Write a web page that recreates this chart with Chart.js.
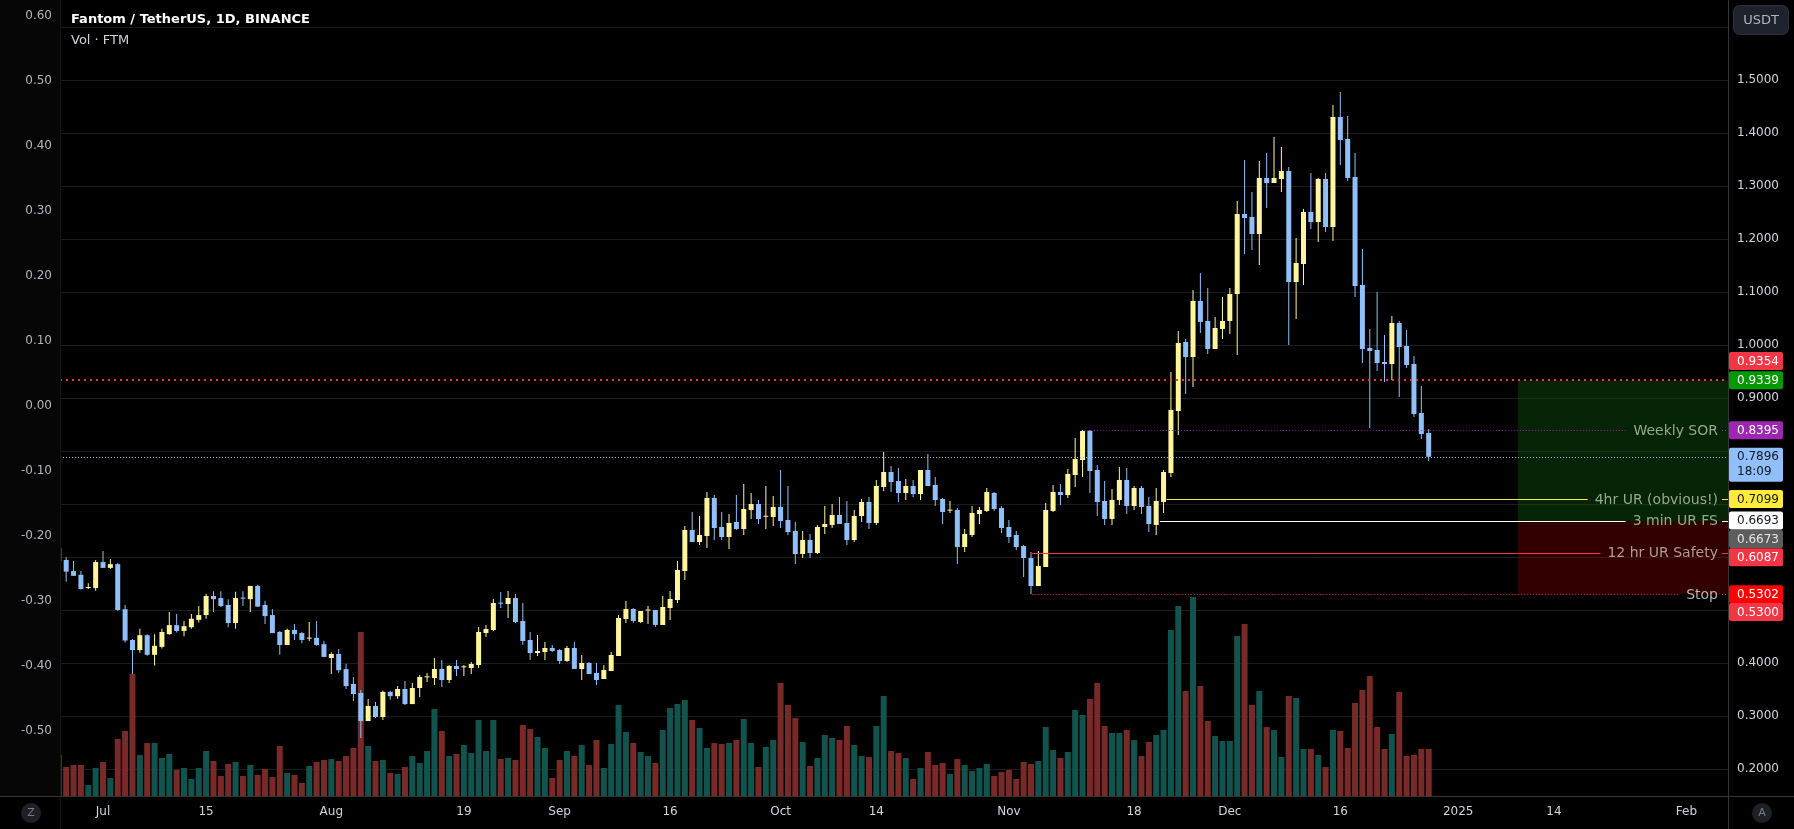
<!DOCTYPE html>
<html>
<head>
<meta charset="utf-8">
<script src="https://cdn.jsdelivr.net/npm/chart.js@4.4.1/dist/chart.umd.min.js"></script>
<style>
  html, body { margin: 0; padding: 0; background: #000; overflow: hidden; }
  canvas { display: block; }
</style>
</head>
<body>
<canvas id="ftmChart" width="1794" height="829"></canvas>
<script>
// daily candles, first one is 25 Jun 2024 (day -6, days counted from 1 Jul 2024)
const firstDay = -6;

const opens = [
  0.618, 0.595, 0.574, 0.567, 0.542, 0.542, 0.591, 0.580, 0.587, 0.502,
  0.444, 0.425, 0.453, 0.416, 0.431, 0.455, 0.472, 0.461, 0.468, 0.482,
  0.491, 0.527, 0.523, 0.510, 0.476, 0.523, 0.521, 0.546, 0.510, 0.491,
  0.459, 0.4345, 0.463, 0.457, 0.4465, 0.448, 0.436, 0.410, 0.4175, 0.389,
  0.361, 0.344, 0.291, 0.3195, 0.2987, 0.346, 0.338, 0.3515, 0.323, 0.3534,
  0.3735, 0.3722, 0.3892, 0.3685, 0.3949, 0.3925, 0.3911, 0.3968, 0.4572, 0.4628,
  0.5138, 0.5119, 0.5232, 0.4798, 0.4440, 0.4194, 0.4213, 0.4289, 0.4251, 0.4044,
  0.4289, 0.3892, 0.4006, 0.3817, 0.3704, 0.3855, 0.4138, 0.4836, 0.5024, 0.4779,
  0.4995, 0.5006, 0.4723, 0.5043, 0.5194, 0.5741, 0.6515, 0.6288, 0.6402, 0.7119,
  0.6572, 0.6383, 0.6666, 0.6534, 0.6893, 0.7006, 0.6765, 0.6760, 0.6949, 0.6704,
  0.6496, 0.6062, 0.6326, 0.6081, 0.6572, 0.6610, 0.6798, 0.6647, 0.6326, 0.6779,
  0.7043, 0.6647, 0.7326, 0.7609, 0.7440, 0.7213, 0.7345, 0.7194, 0.7647, 0.7364,
  0.7100, 0.6880, 0.6893, 0.6194, 0.6421, 0.6817, 0.6874, 0.7213, 0.6930, 0.6572,
  0.6421, 0.6213, 0.5987, 0.5458, 0.5817, 0.6874, 0.7232, 0.7175, 0.7553, 0.7836,
  0.8383, 0.7647, 0.7062, 0.6723, 0.7081, 0.7459, 0.6968, 0.7308, 0.6968, 0.6610,
  0.7044, 0.7591, 0.8760, 1.0062, 0.9779, 1.0836, 1.0459, 0.9930, 1.0308, 1.0459,
  1.0968, 1.2477, 1.2421, 1.2100, 1.3157, 1.3062, 1.3138, 1.3289, 1.1194, 1.1534,
  1.2515, 1.2326, 1.3138, 1.2232, 1.4308, 1.3892, 1.3175, 1.1138, 0.9949, 0.9911,
  0.9685, 0.9647, 1.0421, 0.9987, 0.9647, 0.8723, 0.8345
];
const highs = [
  0.620, 0.600, 0.593, 0.574, 0.551, 0.595, 0.612, 0.597, 0.589, 0.510,
  0.446, 0.465, 0.455, 0.455, 0.465, 0.497, 0.493, 0.480, 0.493, 0.508,
  0.531, 0.536, 0.536, 0.521, 0.535, 0.536, 0.546, 0.548, 0.518, 0.502,
  0.461, 0.465, 0.474, 0.459, 0.478, 0.480, 0.442, 0.421, 0.427, 0.399,
  0.374, 0.3496, 0.3327, 0.327, 0.348, 0.348, 0.357, 0.3666, 0.3628, 0.3779,
  0.3817, 0.4100, 0.4062, 0.3968, 0.4062, 0.3968, 0.4025, 0.4685, 0.4723, 0.5213,
  0.5345, 0.5364, 0.5307, 0.5138, 0.4591, 0.4534, 0.4402, 0.4345, 0.4270, 0.4326,
  0.4402, 0.4157, 0.4025, 0.4006, 0.3968, 0.4213, 0.4911, 0.5175, 0.5043, 0.4987,
  0.5081, 0.5006, 0.5270, 0.5364, 0.5930, 0.6590, 0.6855, 0.6779, 0.7232, 0.7175,
  0.6855, 0.6817, 0.7175, 0.7383, 0.7213, 0.7081, 0.7345, 0.7157, 0.7647, 0.7345,
  0.6666, 0.6496, 0.6440, 0.6610, 0.6968, 0.7006, 0.7138, 0.7062, 0.6893, 0.7100,
  0.7138, 0.7458, 0.7987, 0.7723, 0.7685, 0.7477, 0.7458, 0.7647, 0.7949, 0.7515,
  0.7119, 0.7062, 0.6930, 0.6534, 0.6968, 0.6949, 0.7308, 0.7232, 0.6968, 0.6704,
  0.6496, 0.6232, 0.6100, 0.6119, 0.7025, 0.7364, 0.7383, 0.7666, 0.8251, 0.8402,
  0.8402, 0.7742, 0.7440, 0.7289, 0.7704, 0.7685, 0.7345, 0.7345, 0.7138, 0.7308,
  0.7647, 0.9496, 1.0270, 1.0119, 1.1043, 1.1364, 1.1081, 1.0534, 1.0911, 1.1081,
  1.2723, 1.3496, 1.2892, 1.3477, 1.3628, 1.3930, 1.3742, 1.3364, 1.2025, 1.2572,
  1.3251, 1.3157, 1.3251, 1.4534, 1.4779, 1.4326, 1.3628, 1.1817, 1.0308, 1.1006,
  1.0194, 1.0553, 1.0459, 1.0289, 0.9798, 0.9232, 0.8421
];
const lows = [
  0.590, 0.554, 0.565, 0.539, 0.540, 0.537, 0.580, 0.578, 0.499, 0.439,
  0.380, 0.420, 0.414, 0.396, 0.428, 0.454, 0.458, 0.451, 0.465, 0.477,
  0.484, 0.497, 0.506, 0.468, 0.465, 0.508, 0.497, 0.506, 0.474, 0.457,
  0.416, 0.4345, 0.444, 0.438, 0.442, 0.433, 0.412, 0.380, 0.382, 0.3515,
  0.329, 0.259, 0.291, 0.297, 0.293, 0.331, 0.333, 0.3213, 0.323, 0.3364,
  0.3647, 0.3590, 0.3553, 0.3628, 0.3760, 0.3760, 0.3798, 0.3911, 0.4496, 0.4609,
  0.5043, 0.4855, 0.4760, 0.4345, 0.4062, 0.4138, 0.4062, 0.4213, 0.3987, 0.4025,
  0.3892, 0.3685, 0.3798, 0.3590, 0.3704, 0.3855, 0.4138, 0.4760, 0.4760, 0.4760,
  0.4741, 0.4685, 0.4723, 0.4817, 0.5138, 0.5572, 0.6288, 0.6232, 0.6175, 0.6326,
  0.6326, 0.6157, 0.6515, 0.6421, 0.6722, 0.6628, 0.6534, 0.6591, 0.6553, 0.6421,
  0.5874, 0.5987, 0.5987, 0.6062, 0.6440, 0.6553, 0.6628, 0.6232, 0.6289, 0.6666,
  0.6534, 0.6610, 0.7251, 0.7232, 0.7043, 0.7081, 0.7138, 0.7081, 0.7345, 0.6968,
  0.6628, 0.6836, 0.5874, 0.6100, 0.6383, 0.6628, 0.6855, 0.6874, 0.6459, 0.6270,
  0.6138, 0.5628, 0.5307, 0.5458, 0.5817, 0.6855, 0.6987, 0.7119, 0.7326, 0.7515,
  0.7213, 0.6779, 0.6610, 0.6610, 0.6987, 0.6817, 0.6893, 0.6817, 0.6478, 0.6421,
  0.6836, 0.7515, 0.8308, 0.9081, 0.9213, 1.0232, 0.9836, 0.9930, 1.0119, 1.0213,
  0.9817, 1.1723, 1.1798, 1.1515, 1.2591, 1.3062, 1.2892, 1.0006, 1.0496, 1.1138,
  1.2194, 1.1949, 1.2138, 1.1968, 1.3402, 1.3100, 1.0911, 0.9666, 0.8440, 0.9515,
  0.9308, 0.9345, 0.9025, 0.9572, 0.8647, 0.8232, 0.7817
];
const closes = [
  0.593, 0.573, 0.565, 0.540, 0.544, 0.591, 0.580, 0.587, 0.5006, 0.443,
  0.425, 0.453, 0.416, 0.433, 0.459, 0.472, 0.461, 0.470, 0.484, 0.491,
  0.527, 0.521, 0.508, 0.476, 0.523, 0.522, 0.546, 0.507, 0.489, 0.457,
  0.4345, 0.463, 0.455, 0.444, 0.448, 0.4345, 0.412, 0.4175, 0.387, 0.357,
  0.342, 0.291, 0.3195, 0.2987, 0.346, 0.338, 0.3515, 0.323, 0.3534, 0.3741,
  0.3745, 0.3892, 0.3685, 0.3949, 0.3892, 0.3935, 0.3987, 0.4591, 0.4647, 0.5138,
  0.5125, 0.5232, 0.4779, 0.4421, 0.4194, 0.4232, 0.4289, 0.4232, 0.4044, 0.4289,
  0.3892, 0.4006, 0.3798, 0.3685, 0.3873, 0.4157, 0.4855, 0.5024, 0.4798, 0.4987,
  0.5003, 0.4723, 0.5062, 0.5213, 0.5760, 0.6515, 0.6288, 0.6421, 0.7119, 0.6553,
  0.6383, 0.6647, 0.6534, 0.6911, 0.7006, 0.6722, 0.6780, 0.6949, 0.6685, 0.6477,
  0.6062, 0.6326, 0.6081, 0.6572, 0.6628, 0.6798, 0.6628, 0.6326, 0.6779, 0.7043,
  0.6647, 0.7345, 0.7609, 0.7421, 0.7213, 0.7345, 0.7194, 0.7647, 0.7345, 0.7081,
  0.6855, 0.6893, 0.6194, 0.6440, 0.6836, 0.6893, 0.7232, 0.6911, 0.6553, 0.6383,
  0.6194, 0.5987, 0.5458, 0.5836, 0.6893, 0.7232, 0.7175, 0.7572, 0.7855, 0.8383,
  0.7628, 0.7043, 0.6723, 0.7081, 0.7459, 0.6968, 0.7308, 0.6949, 0.6628, 0.7062,
  0.7609, 0.8779, 1.0043, 0.9779, 1.0836, 1.0440, 0.9930, 1.0326, 1.0459, 1.0968,
  1.2477, 1.2402, 1.2100, 1.3157, 1.3062, 1.3157, 1.3289, 1.1194, 1.1553, 1.2515,
  1.2326, 1.3138, 1.2232, 1.4308, 1.3874, 1.3157, 1.1119, 0.9930, 0.9892, 0.9666,
  0.9647, 1.0421, 0.9968, 0.9628, 0.8704, 0.8326, 0.7896
];
// volume in millions of FTM
const volumes = [
  41, 29, 31, 31, 11, 28, 34, 18, 57, 65,
  122, 41, 53, 53, 38, 42, 26, 28, 17, 28,
  45, 35, 20, 32, 34, 20, 31, 21, 27, 19,
  50, 23, 21, 13, 30, 34, 36, 37, 35, 40,
  48, 164, 50, 35, 36, 23, 22, 29, 40, 33,
  45, 87, 65, 40, 42, 51, 43, 76, 45, 76,
  37, 38, 36, 71, 67, 59, 48, 18, 36, 45,
  40, 51, 31, 56, 28, 52, 91, 64, 53, 44,
  40, 33, 66, 88, 92, 96, 76, 68, 48, 53,
  52, 53, 56, 77, 53, 29, 49, 56, 113, 91,
  78, 54, 30, 38, 61, 58, 56, 70, 51, 40,
  39, 70, 100, 45, 43, 38, 17, 28, 44, 31,
  33, 22, 37, 31, 25, 28, 32, 20, 24, 26,
  17, 34, 32, 35, 69, 46, 38, 44, 86, 81,
  97, 113, 70, 63, 63, 66, 56, 40, 54, 61,
  66, 166, 190, 105, 199, 110, 75, 60, 55, 55,
  160, 172, 91, 105, 69, 66, 39, 100, 98, 47,
  47, 41, 29, 66, 65, 48, 93, 106, 120, 69,
  47, 62, 104, 40, 41, 47, 47
];

const xTickDays = [0, 14, 31, 49, 62, 77, 92, 105, 123, 140, 153, 168, 184, 197, 215];
const xTickLabels = ['Jul', '15', 'Aug', '19', 'Sep', '16', 'Oct', '14', 'Nov', '18', 'Dec', '16', '2025', '14', 'Feb'];
const priceTicks = [0.2, 0.3, 0.4, 0.5, 0.6, 0.7, 0.8, 0.9, 1.0, 1.1, 1.2, 1.3, 1.4, 1.5, 1.6];
const priceTickLabels = ['0.2000', '0.3000', '0.4000', '', '', '', '', '0.9000', '1.0000', '1.1000', '1.2000', '1.3000', '1.4000', '1.5000', ''];
const leftTicks = [-0.5, -0.4, -0.3, -0.2, -0.1, 0, 0.1, 0.2, 0.3, 0.4, 0.5, 0.6];
const leftTickLabels = ['-0.50', '-0.40', '-0.30', '-0.20', '-0.10', '0.00', '0.10', '0.20', '0.30', '0.40', '0.50', '0.60'];

// drawings on the chart
const position = { fromDay: 192.1, target: 0.9339, entry: 0.6673, stop: 0.5302 };
const fullLines = [
  { price: 0.9354, color: '#f23645', width: 2, dash: [2, 4] },
  { price: 0.7896, color: '#90bff9', width: 1, dash: [1, 2] }
];
const levels = [
  { price: 0.8395, fromDay: 133.3, text: 'Weekly SOR', color: '#9c27b0', dash: [1, 2], textColor: '#93a893' },
  { price: 0.7099, fromDay: 144.4, text: '4hr UR (obvious!)', color: '#ffeb3b', dash: [], textColor: '#93a893' },
  { price: 0.6693, fromDay: 143.5, text: '3 min UR FS', color: '#ffffff', dash: [], textColor: '#93a893' },
  { price: 0.6087, fromDay: 126.1, text: '12 hr UR Safety', color: '#f23645', dash: [], textColor: '#b39a9a' },
  { price: 0.5302, fromDay: 126.1, text: 'Stop', color: '#f23645', dash: [1, 2], textColor: '#b8b2b2' }
];
const tags = [
  { price: 0.9354, text: '0.9354', bg: '#f23645', fg: '#ffffff', nudge: -18.5 },
  { price: 0.9339, text: '0.9339', bg: '#009900', fg: '#ffffff', nudge: 0 },
  { price: 0.8395, text: '0.8395', bg: '#9c27b0', fg: '#ffffff', nudge: 0 },
  { price: 0.7896, text: '0.7896', sub: '18:09', bg: '#90bff9', fg: '#131722', nudge: 0 },
  { price: 0.7099, text: '0.7099', bg: '#ffeb3b', fg: '#131722', nudge: 0 },
  { price: 0.6693, text: '0.6693', bg: '#ffffff', fg: '#131722', nudge: 0 },
  { price: 0.6673, text: '0.6673', bg: '#5d5d5d', fg: '#e6e6e6', nudge: 17.5 },
  { price: 0.6087, text: '0.6087', bg: '#f23645', fg: '#ffffff', nudge: 4.6 },
  { price: 0.5302, text: '0.5302', bg: '#ff0000', fg: '#ffffff', nudge: 0 },
  { price: 0.5300, text: '0.5300', bg: '#f23645', fg: '#ffffff', nudge: 17.6 }
];

const UP = '#fff59d', DOWN = '#90bff9';
const VOL_UP = '#13534d', VOL_DOWN = '#782a28';
const FONT = 'DejaVu Sans';

const days = opens.map((_, i) => firstDay + i);
const isUp = closes.map((c, i) => c >= opens[i]);

function hline(ctx, x0, x1, y, color, width, dash) {
  ctx.save();
  ctx.strokeStyle = color;
  ctx.lineWidth = width;
  ctx.setLineDash(dash || []);
  const yy = width % 2 ? Math.round(y) + 0.5 : Math.round(y);
  ctx.beginPath();
  ctx.moveTo(x0, yy);
  ctx.lineTo(x1, yy);
  ctx.stroke();
  ctx.restore();
}

function roundRect(ctx, x, y, w, h, r) {
  ctx.beginPath();
  ctx.moveTo(x + r, y);
  ctx.arcTo(x + w, y, x + w, y + h, r);
  ctx.arcTo(x + w, y + h, x, y + h, r);
  ctx.arcTo(x, y + h, x, y, r);
  ctx.arcTo(x, y, x + w, y, r);
  ctx.closePath();
}

const tvOverlay = {
  id: 'tvOverlay',
  beforeDraw(chart) {
    const { ctx, chartArea: a } = chart;
    ctx.save();
    ctx.fillStyle = '#000';
    ctx.fillRect(0, 0, chart.width, chart.height);
    ctx.fillStyle = '#060606';
    ctx.fillRect(0, 0, a.left, a.bottom);
    ctx.restore();
  },
  beforeDatasetsDraw(chart) {
    // long position box
    const { ctx, chartArea: a, scales } = chart;
    const x0 = scales.x.getPixelForValue(position.fromDay);
    const yT = scales.y.getPixelForValue(position.target);
    const yE = scales.y.getPixelForValue(position.entry);
    const yS = scales.y.getPixelForValue(position.stop);
    ctx.save();
    ctx.fillStyle = 'rgba(18,120,18,0.3)';
    ctx.fillRect(x0, yT, a.right - x0, yE - yT);
    ctx.fillStyle = 'rgba(150,0,0,0.34)';
    ctx.fillRect(x0, yE, a.right - x0, yS - yE);
    ctx.restore();
  },
  afterDatasetsDraw(chart) {
    const { ctx, chartArea: a, scales } = chart;
    fullLines.forEach(l => {
      hline(ctx, a.left, a.right, scales.y.getPixelForValue(l.price), l.color, l.width, l.dash);
    });
    ctx.save();
    ctx.font = '14px "' + FONT + '"';
    ctx.textBaseline = 'middle';
    ctx.textAlign = 'right';
    levels.forEach(l => {
      const y = scales.y.getPixelForValue(l.price);
      const x0 = scales.x.getPixelForValue(l.fromDay);
      const textRight = a.right - 10;
      const w = ctx.measureText(l.text).width;
      hline(ctx, x0, textRight - w - 7, y, l.color, 1, l.dash);
      hline(ctx, a.right - 6, a.right, y, l.color, 1, l.dash);
      ctx.fillStyle = l.textColor;
      ctx.fillText(l.text, textRight, y + 1);
    });
    ctx.restore();
  },
  afterDraw(chart) {
    const { ctx, chartArea: a, scales } = chart;
    ctx.save();
    // separators
    ctx.fillStyle = '#161616';
    ctx.fillRect(a.left, 0, 1, chart.height);
    ctx.fillStyle = '#363636';
    ctx.fillRect(a.right, 0, 1, chart.height);
    ctx.fillRect(0, a.bottom, chart.width, 1);

    // price tags on the right axis
    ctx.font = '12px "' + FONT + '"';
    ctx.textBaseline = 'middle';
    ctx.textAlign = 'left';
    tags.forEach(t => {
      const y = scales.y.getPixelForValue(t.price) + t.nudge;
      const h = t.sub ? 34 : 18;
      ctx.fillStyle = t.bg;
      roundRect(ctx, a.right + 1, y - 9, 54, h, 2);
      ctx.fill();
      ctx.fillStyle = t.fg;
      ctx.fillText(t.text, a.right + 9, y + 0.5);
      if (t.sub) ctx.fillText(t.sub, a.right + 9, y + 15.5);
    });

    // currency button
    ctx.fillStyle = '#1e222d';
    roundRect(ctx, a.right + 5.5, 5.5, 55, 29, 6);
    ctx.fill();
    ctx.strokeStyle = '#2e3240';
    ctx.lineWidth = 1;
    ctx.stroke();
    ctx.fillStyle = '#b2b5be';
    ctx.font = '13px "' + FONT + '"';
    ctx.textAlign = 'center';
    ctx.fillText('USDT', a.right + 33, 20.5);

    // corner buttons
    [[31, 'Z'], [chart.width - 32, 'A']].forEach(([cx, letter]) => {
      ctx.fillStyle = '#1f2027';
      ctx.beginPath();
      ctx.arc(cx, 813, 10, 0, Math.PI * 2);
      ctx.fill();
      ctx.fillStyle = '#787b86';
      ctx.font = '11px "' + FONT + '"';
      ctx.fillText(letter, cx, 813.5);
    });

    // legend text
    ctx.textAlign = 'left';
    ctx.fillStyle = '#ffffff';
    ctx.font = 'bold 13px "' + FONT + '"';
    ctx.fillText('Fantom / TetherUS, 1D, BINANCE', a.left + 11, 19.5);
    ctx.fillStyle = '#d1d4dc';
    ctx.font = '13px "' + FONT + '"';
    ctx.fillText('Vol · FTM', a.left + 11, 41);
    ctx.restore();
  }
};

function fixedBox(size, prop) {
  return s => {
    s[prop] = size;
    s.paddingTop = 0; s.paddingBottom = 0; s.paddingLeft = 0; s.paddingRight = 0;
  };
}

Chart.defaults.font.family = FONT;
Chart.defaults.font.size = 12;

const canvas = document.getElementById('ftmChart');
new Chart(canvas.getContext('2d'), {
  type: 'bar',
  data: {
    datasets: [
      {
        label: 'Volume',
        yAxisID: 'v',
        data: days.map((d, i) => ({ x: d, y: volumes[i] })),
        backgroundColor: isUp.map(u => (u ? VOL_UP : VOL_DOWN)),
        barThickness: 6,
        grouped: false,
        inflateAmount: 0,
        clip: 0,
        order: 3
      },
      {
        label: 'Wicks',
        yAxisID: 'y',
        data: days.map((d, i) => ({ x: d, y: [lows[i], highs[i]] })),
        backgroundColor: isUp.map(u => (u ? UP : DOWN)),
        barThickness: 1,
        grouped: false,
        inflateAmount: 0,
        minBarLength: 1,
        clip: 0,
        order: 2
      },
      {
        label: 'Bodies',
        yAxisID: 'y',
        data: days.map((d, i) => ({ x: d, y: [Math.min(opens[i], closes[i]), Math.max(opens[i], closes[i])] })),
        backgroundColor: isUp.map(u => (u ? UP : DOWN)),
        barThickness: 5,
        grouped: false,
        inflateAmount: 0,
        minBarLength: 1,
        clip: 0,
        order: 1
      }
    ]
  },
  options: {
    responsive: false,
    devicePixelRatio: 1,
    animation: false,
    layout: { padding: 0 },
    plugins: { legend: { display: false }, tooltip: { enabled: false }, title: { display: false } },
    scales: {
      x: {
        type: 'linear',
        min: -5.84,
        max: 220.64,
        offset: false,
        grid: { display: false, drawTicks: false },
        border: { display: false },
        afterBuildTicks: s => { s.ticks = xTickDays.map(v => ({ value: v })); },
        ticks: {
          autoSkip: false, maxRotation: 0, padding: 9, color: '#d1d4dc',
          callback: (v, i) => xTickLabels[i]
        },
        afterFit: fixedBox(33, 'height')
      },
      y: {
        position: 'right',
        min: 0.1496,
        max: 1.6515,
        grid: { color: '#1c1c1c', drawTicks: false },
        border: { display: false },
        afterBuildTicks: s => { s.ticks = priceTicks.map(v => ({ value: v })); },
        ticks: { autoSkip: false, padding: 9, color: '#d1d4dc', callback: (v, i) => priceTickLabels[i] },
        afterFit: fixedBox(66, 'width')
      },
      yL: {
        position: 'left',
        min: -0.5997,
        max: 0.6249,
        grid: { display: false, drawTicks: false },
        border: { display: false },
        afterBuildTicks: s => { s.ticks = leftTicks.map(v => ({ value: v })); },
        ticks: { autoSkip: false, padding: 8, color: '#b2b5be', callback: (v, i) => leftTickLabels[i] },
        afterFit: fixedBox(60, 'width')
      },
      v: { display: false, min: 0, max: 796 }
    }
  },
  plugins: [tvOverlay]
});
</script>
</body>
</html>
